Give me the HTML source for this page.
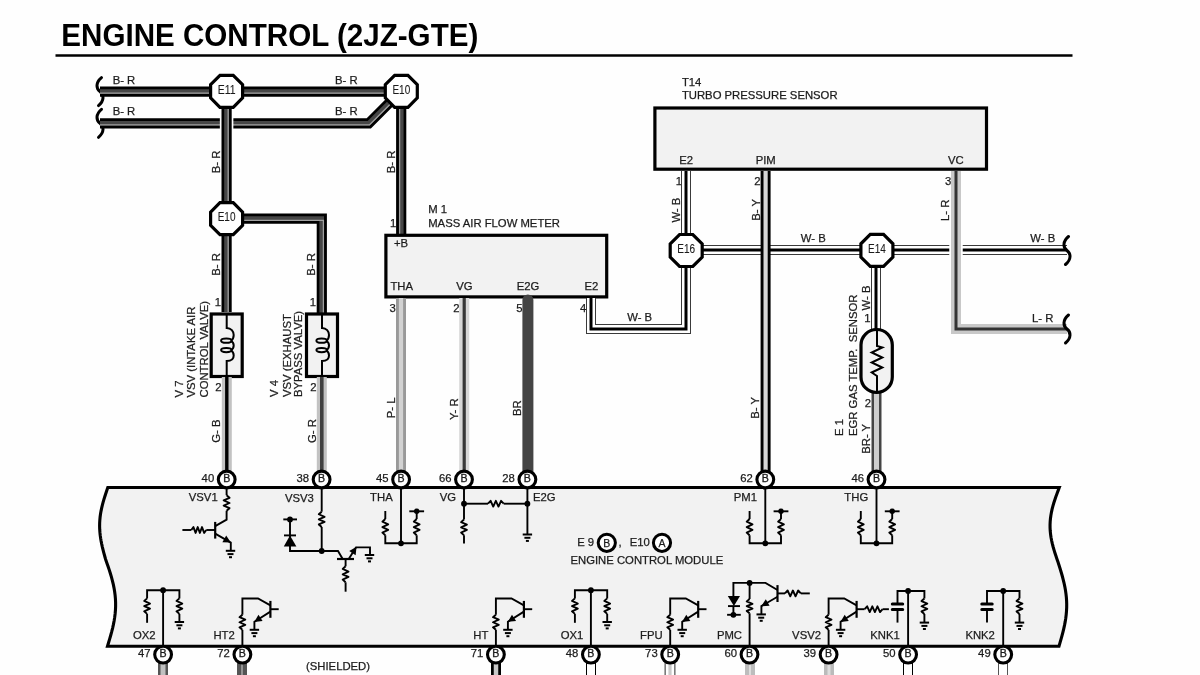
<!DOCTYPE html><html><head><meta charset="utf-8"><style>html,body{margin:0;padding:0;background:#fff;overflow:hidden;width:1200px;height:675px;}svg{display:block;filter:grayscale(1);}</style></head><body>
<svg width="1200" height="675" viewBox="0 0 1200 675" font-family='"Liberation Sans", sans-serif'>
<rect width="1200" height="675" fill="#fefefe"/>
<text x="61.3" y="45.6" font-size="30.6" font-weight="bold" fill="#000" textLength="417" lengthAdjust="spacingAndGlyphs">ENGINE CONTROL (2JZ-GTE)</text>
<path d="M55.5,55.5 L1072.5,55.5" fill="none" stroke="#000" stroke-width="2.6" stroke-linecap="butt" stroke-linejoin="miter"/>
<path d="M101.5,77.6 C95.5,82.6 96,88.6 100,91.6 C104,94.6 104.5,100.6 98.5,105.6" fill="none" stroke="#000" stroke-width="3" stroke-linecap="round"/>
<path d="M101.5,109.3 C95.5,114.3 96,120.3 100,123.3 C104,126.3 104.5,132.3 98.5,137.3" fill="none" stroke="#000" stroke-width="3" stroke-linecap="round"/>
<path d="M100,91.6 L401.3,91.6" fill="none" stroke="#000" stroke-width="10.2" stroke-linecap="butt" stroke-linejoin="miter"/>
<path d="M100.0,91.5 L401.3,91.5" fill="none" stroke="#464646" stroke-width="4.6" stroke-linecap="butt" stroke-linejoin="miter"/>
<path d="M100.0,93.2 L401.3,93.2" fill="none" stroke="#a0a0a0" stroke-width="1.3" stroke-linecap="butt" stroke-linejoin="miter"/>
<path d="M100,123.3 L368.8,123.3 L390,102.1" fill="none" stroke="#000" stroke-width="10.2" stroke-linecap="butt" stroke-linejoin="miter"/>
<path d="M100.0,123.2 L368.76,123.2 L389.93,102.03" fill="none" stroke="#464646" stroke-width="4.6" stroke-linecap="butt" stroke-linejoin="miter"/>
<path d="M100.0,124.9 L369.46,124.9 L391.13,103.23" fill="none" stroke="#a0a0a0" stroke-width="1.3" stroke-linecap="butt" stroke-linejoin="miter"/>
<path d="M226.6,100 L226.6,312" fill="none" stroke="#fefefe" stroke-width="13.5" stroke-linecap="butt" stroke-linejoin="miter"/>
<path d="M226.6,92 L226.6,312" fill="none" stroke="#000" stroke-width="10.2" stroke-linecap="butt" stroke-linejoin="miter"/>
<path d="M226.5,92.0 L226.5,312.0" fill="none" stroke="#464646" stroke-width="4.6" stroke-linecap="butt" stroke-linejoin="miter"/>
<path d="M228.2,92.0 L228.2,312.0" fill="none" stroke="#a0a0a0" stroke-width="1.3" stroke-linecap="butt" stroke-linejoin="miter"/>
<path d="M226.6,218.7 L321.8,218.7 L321.8,313" fill="none" stroke="#000" stroke-width="10.2" stroke-linecap="butt" stroke-linejoin="miter"/>
<path d="M226.6,218.6 L321.7,218.6 L321.7,313.0" fill="none" stroke="#464646" stroke-width="4.6" stroke-linecap="butt" stroke-linejoin="miter"/>
<path d="M226.6,220.3 L323.4,220.3 L323.4,313.0" fill="none" stroke="#a0a0a0" stroke-width="1.3" stroke-linecap="butt" stroke-linejoin="miter"/>
<path d="M401.2,92 L401.2,234" fill="none" stroke="#000" stroke-width="10.2" stroke-linecap="butt" stroke-linejoin="miter"/>
<path d="M401.3,92.0 L401.3,234.0" fill="none" stroke="#464646" stroke-width="4.6" stroke-linecap="butt" stroke-linejoin="miter"/>
<path d="M399.6,92.0 L399.6,234.0" fill="none" stroke="#a0a0a0" stroke-width="1.3" stroke-linecap="butt" stroke-linejoin="miter"/>
<path d="M219.97,75.30 L233.23,75.30 L242.60,84.67 L242.60,97.93 L233.23,107.30 L219.97,107.30 L210.60,97.93 L210.60,84.67Z" fill="#fff" stroke="#000" stroke-width="3.2" stroke-linejoin="miter"/>
<text x="226.6" y="93.8" font-size="12.2" text-anchor="middle" fill="#1c1c1c" stroke="#1c1c1c" stroke-width="0.1" textLength="17.8" lengthAdjust="spacingAndGlyphs">E11</text>
<path d="M394.67,75.30 L407.93,75.30 L417.30,84.67 L417.30,97.93 L407.93,107.30 L394.67,107.30 L385.30,97.93 L385.30,84.67Z" fill="#fff" stroke="#000" stroke-width="3.2" stroke-linejoin="miter"/>
<text x="401.3" y="93.8" font-size="12.2" text-anchor="middle" fill="#1c1c1c" stroke="#1c1c1c" stroke-width="0.1" textLength="17.8" lengthAdjust="spacingAndGlyphs">E10</text>
<path d="M219.97,202.70 L233.23,202.70 L242.60,212.07 L242.60,225.33 L233.23,234.70 L219.97,234.70 L210.60,225.33 L210.60,212.07Z" fill="#fff" stroke="#000" stroke-width="3.2" stroke-linejoin="miter"/>
<text x="226.6" y="221.2" font-size="12.2" text-anchor="middle" fill="#1c1c1c" stroke="#1c1c1c" stroke-width="0.1" textLength="17.8" lengthAdjust="spacingAndGlyphs">E10</text>
<text x="112.7" y="83.7" font-size="11.3" text-anchor="start" fill="#1c1c1c" stroke="#1c1c1c" stroke-width="0.25" >B- R</text>
<text x="112.7" y="115.3" font-size="11.3" text-anchor="start" fill="#1c1c1c" stroke="#1c1c1c" stroke-width="0.25" >B- R</text>
<text x="335" y="83.7" font-size="11.3" text-anchor="start" fill="#1c1c1c" stroke="#1c1c1c" stroke-width="0.25" >B- R</text>
<text x="335" y="115.3" font-size="11.3" text-anchor="start" fill="#1c1c1c" stroke="#1c1c1c" stroke-width="0.25" >B- R</text>
<text transform="translate(220,173.2) rotate(-90)" font-size="11.3" fill="#1c1c1c" stroke="#1c1c1c" stroke-width="0.25" >B- R</text>
<text transform="translate(394.6,173.2) rotate(-90)" font-size="11.3" fill="#1c1c1c" stroke="#1c1c1c" stroke-width="0.25" >B- R</text>
<text transform="translate(220,275.8) rotate(-90)" font-size="11.3" fill="#1c1c1c" stroke="#1c1c1c" stroke-width="0.25" >B- R</text>
<text transform="translate(315.2,275.8) rotate(-90)" font-size="11.3" fill="#1c1c1c" stroke="#1c1c1c" stroke-width="0.25" >B- R</text>
<text x="218" y="305.8" font-size="11.3" text-anchor="middle" fill="#1c1c1c" stroke="#1c1c1c" stroke-width="0.25" >1</text>
<text x="313" y="305.8" font-size="11.3" text-anchor="middle" fill="#1c1c1c" stroke="#1c1c1c" stroke-width="0.25" >1</text>
<rect x="211.2" y="314" width="31" height="62.5" fill="#f2f2f2" stroke="#000" stroke-width="3.2"/>
<path d="M226.7,314 V328 C231.2,328 233.7,331.5 233.7,335 C233.7,338 232.7,339.8 230.89999999999998,340.9 M230.89999999999998,340.9 C233.0,342 233.7,343.8 233.7,345.4 C233.7,347.3 232.89999999999998,349 230.89999999999998,350.3 M230.89999999999998,350.3 C233.0,351.5 233.7,353.5 233.7,355.5 C233.7,358.8 231.2,361 226.7,361 V376.5" fill="none" stroke="#000" stroke-width="2"/>
<ellipse cx="226.29999999999998" cy="340.7" rx="5.2" ry="2.1" fill="none" stroke="#000" stroke-width="2"/>
<ellipse cx="226.29999999999998" cy="350.1" rx="5.2" ry="2.1" fill="none" stroke="#000" stroke-width="2"/>
<rect x="306.5" y="314" width="31" height="62.5" fill="#f2f2f2" stroke="#000" stroke-width="3.2"/>
<path d="M322,314 V328 C326.5,328 329,331.5 329,335 C329,338 328,339.8 326.2,340.9 M326.2,340.9 C328.3,342 329,343.8 329,345.4 C329,347.3 328.2,349 326.2,350.3 M326.2,350.3 C328.3,351.5 329,353.5 329,355.5 C329,358.8 326.5,361 322,361 V376.5" fill="none" stroke="#000" stroke-width="2"/>
<ellipse cx="321.6" cy="340.7" rx="5.2" ry="2.1" fill="none" stroke="#000" stroke-width="2"/>
<ellipse cx="321.6" cy="350.1" rx="5.2" ry="2.1" fill="none" stroke="#000" stroke-width="2"/>
<path d="M226.8,377 L226.8,479" fill="none" stroke="#c2c2c2" stroke-width="10" stroke-linecap="butt" stroke-linejoin="miter"/>
<path d="M226.8,377 L226.8,479" fill="none" stroke="#000" stroke-width="3.4" stroke-linecap="butt" stroke-linejoin="miter"/>
<path d="M321.8,377 L321.8,479" fill="none" stroke="#c2c2c2" stroke-width="10" stroke-linecap="butt" stroke-linejoin="miter"/>
<path d="M321.8,377 L321.8,479" fill="none" stroke="#404040" stroke-width="3.6" stroke-linecap="butt" stroke-linejoin="miter"/>
<text x="218.5" y="391.4" font-size="11.3" text-anchor="middle" fill="#1c1c1c" stroke="#1c1c1c" stroke-width="0.25" >2</text>
<text x="313.5" y="391.4" font-size="11.3" text-anchor="middle" fill="#1c1c1c" stroke="#1c1c1c" stroke-width="0.25" >2</text>
<text transform="translate(183,397.5) rotate(-90)" font-size="11.3" fill="#1c1c1c" stroke="#1c1c1c" stroke-width="0.25" >V 7</text>
<text transform="translate(195.4,397.5) rotate(-90)" font-size="11.3" fill="#1c1c1c" stroke="#1c1c1c" stroke-width="0.25" >VSV (INTAKE AIR</text>
<text transform="translate(208,397.5) rotate(-90)" font-size="11.3" fill="#1c1c1c" stroke="#1c1c1c" stroke-width="0.25" >CONTROL VALVE)</text>
<text transform="translate(278,397) rotate(-90)" font-size="11.3" fill="#1c1c1c" stroke="#1c1c1c" stroke-width="0.25" >V 4</text>
<text transform="translate(291,397) rotate(-90)" font-size="11.3" fill="#1c1c1c" stroke="#1c1c1c" stroke-width="0.25" >VSV (EXHAUST</text>
<text transform="translate(302.4,397) rotate(-90)" font-size="11.3" fill="#1c1c1c" stroke="#1c1c1c" stroke-width="0.25" >BYPASS VALVE)</text>
<text transform="translate(220.1,442.7) rotate(-90)" font-size="11.3" fill="#1c1c1c" stroke="#1c1c1c" stroke-width="0.25" >G- B</text>
<text transform="translate(315.5,443) rotate(-90)" font-size="11.3" fill="#1c1c1c" stroke="#1c1c1c" stroke-width="0.25" >G- R</text>
<rect x="385.9" y="235.3" width="220.8" height="61.6" fill="#f2f2f2" stroke="#000" stroke-width="3.2"/>
<text x="428.2" y="213.3" font-size="11.3" text-anchor="start" fill="#1c1c1c" stroke="#1c1c1c" stroke-width="0.25" >M 1</text>
<text x="428.2" y="226.7" font-size="11.3" text-anchor="start" fill="#1c1c1c" stroke="#1c1c1c" stroke-width="0.25" >MASS AIR FLOW METER</text>
<text x="390" y="226.7" font-size="11.3" text-anchor="start" fill="#1c1c1c" stroke="#1c1c1c" stroke-width="0.25" >1</text>
<text x="394" y="247.3" font-size="11.3" text-anchor="start" fill="#1c1c1c" stroke="#1c1c1c" stroke-width="0.25" >+B</text>
<text x="390.4" y="290" font-size="11.3" text-anchor="start" fill="#1c1c1c" stroke="#1c1c1c" stroke-width="0.25" >THA</text>
<text x="456.2" y="290" font-size="11.3" text-anchor="start" fill="#1c1c1c" stroke="#1c1c1c" stroke-width="0.25" >VG</text>
<text x="516.7" y="290" font-size="11.3" text-anchor="start" fill="#1c1c1c" stroke="#1c1c1c" stroke-width="0.25" >E2G</text>
<text x="584.4" y="290" font-size="11.3" text-anchor="start" fill="#1c1c1c" stroke="#1c1c1c" stroke-width="0.25" >E2</text>
<text x="389.6" y="311.8" font-size="11.3" text-anchor="start" fill="#1c1c1c" stroke="#1c1c1c" stroke-width="0.25" >3</text>
<text x="453.3" y="311.8" font-size="11.3" text-anchor="start" fill="#1c1c1c" stroke="#1c1c1c" stroke-width="0.25" >2</text>
<text x="516.2" y="311.8" font-size="11.3" text-anchor="start" fill="#1c1c1c" stroke="#1c1c1c" stroke-width="0.25" >5</text>
<text x="580" y="311.8" font-size="11.3" text-anchor="start" fill="#1c1c1c" stroke="#1c1c1c" stroke-width="0.25" >4</text>
<path d="M401,298 L401,479" fill="none" stroke="#999" stroke-width="10" stroke-linecap="butt" stroke-linejoin="miter"/>
<path d="M401,298 L401,479" fill="none" stroke="#d2d2d2" stroke-width="4.2" stroke-linecap="butt" stroke-linejoin="miter"/>
<path d="M464.2,298 L464.2,479" fill="none" stroke="#d8d8d8" stroke-width="10" stroke-linecap="butt" stroke-linejoin="miter"/>
<path d="M464.2,298 L464.2,479" fill="none" stroke="#383838" stroke-width="3.2" stroke-linecap="butt" stroke-linejoin="miter"/>
<path d="M527.9,300 L527.9,479" fill="none" stroke="#444" stroke-width="11" stroke-linecap="round" stroke-linejoin="miter"/>
<text transform="translate(394.5,418.2) rotate(-90)" font-size="11.3" fill="#1c1c1c" stroke="#1c1c1c" stroke-width="0.25" >P- L</text>
<text transform="translate(457.9,420) rotate(-90)" font-size="11.3" fill="#1c1c1c" stroke="#1c1c1c" stroke-width="0.25" >Y- R</text>
<text transform="translate(521.2,416.1) rotate(-90)" font-size="11.3" fill="#1c1c1c" stroke="#1c1c1c" stroke-width="0.25" >BR</text>
<rect x="654.9" y="108" width="331.6" height="61.2" fill="#f2f2f2" stroke="#000" stroke-width="3.2"/>
<text x="681.9" y="85.6" font-size="11.3" text-anchor="start" fill="#1c1c1c" stroke="#1c1c1c" stroke-width="0.25" >T14</text>
<text x="681.9" y="98.7" font-size="11.3" text-anchor="start" fill="#1c1c1c" stroke="#1c1c1c" stroke-width="0.25" >TURBO PRESSURE SENSOR</text>
<text x="679.3" y="163.6" font-size="11.3" text-anchor="start" fill="#1c1c1c" stroke="#1c1c1c" stroke-width="0.25" >E2</text>
<text x="755.7" y="163.6" font-size="11.3" text-anchor="start" fill="#1c1c1c" stroke="#1c1c1c" stroke-width="0.25" >PIM</text>
<text x="947.9" y="163.6" font-size="11.3" text-anchor="start" fill="#1c1c1c" stroke="#1c1c1c" stroke-width="0.25" >VC</text>
<text x="675.7" y="185.2" font-size="11.3" text-anchor="start" fill="#1c1c1c" stroke="#1c1c1c" stroke-width="0.25" >1</text>
<text x="754.3" y="185.2" font-size="11.3" text-anchor="start" fill="#1c1c1c" stroke="#1c1c1c" stroke-width="0.25" >2</text>
<text x="944.9" y="185" font-size="11.3" text-anchor="start" fill="#1c1c1c" stroke="#1c1c1c" stroke-width="0.25" >3</text>
<path d="M591,298 L591,329 L686,329 L686,250" fill="none" stroke="#3a3a3a" stroke-width="10" stroke-linecap="butt" stroke-linejoin="miter"/>
<path d="M591,298 L591,329 L686,329 L686,250" fill="none" stroke="#fff" stroke-width="8" stroke-linecap="butt" stroke-linejoin="miter"/>
<path d="M591,298 L591,329 L686,329 L686,250" fill="none" stroke="#000" stroke-width="3" stroke-linecap="butt" stroke-linejoin="miter"/>
<path d="M686,171 L686,250" fill="none" stroke="#3a3a3a" stroke-width="10" stroke-linecap="butt" stroke-linejoin="miter"/>
<path d="M686,171 L686,250" fill="none" stroke="#fff" stroke-width="8" stroke-linecap="butt" stroke-linejoin="miter"/>
<path d="M686,171 L686,250" fill="none" stroke="#000" stroke-width="3" stroke-linecap="butt" stroke-linejoin="miter"/>
<path d="M686,250 L1067,250" fill="none" stroke="#3a3a3a" stroke-width="10" stroke-linecap="butt" stroke-linejoin="miter"/>
<path d="M686,250 L1067,250" fill="none" stroke="#fff" stroke-width="8" stroke-linecap="butt" stroke-linejoin="miter"/>
<path d="M686,250 L1067,250" fill="none" stroke="#000" stroke-width="3" stroke-linecap="butt" stroke-linejoin="miter"/>
<path d="M876,250 L876,330" fill="none" stroke="#3a3a3a" stroke-width="10" stroke-linecap="butt" stroke-linejoin="miter"/>
<path d="M876,250 L876,330" fill="none" stroke="#fff" stroke-width="8" stroke-linecap="butt" stroke-linejoin="miter"/>
<path d="M876,250 L876,330" fill="none" stroke="#000" stroke-width="3" stroke-linecap="butt" stroke-linejoin="miter"/>
<path d="M956,238 L956,262" fill="none" stroke="#fefefe" stroke-width="13.5" stroke-linecap="butt" stroke-linejoin="miter"/>
<path d="M956,171 L956,329 L1067,329" fill="none" stroke="#c8c8c8" stroke-width="10" stroke-linecap="butt" stroke-linejoin="miter"/>
<path d="M956,171 L956,329 L1067,329" fill="none" stroke="#333" stroke-width="3" stroke-linecap="butt" stroke-linejoin="miter"/>
<path d="M765.6,171 L765.6,479" fill="none" stroke="#000" stroke-width="10" stroke-linecap="butt" stroke-linejoin="miter"/>
<path d="M765.6,171 L765.6,479" fill="none" stroke="#d6d6d6" stroke-width="4.2" stroke-linecap="butt" stroke-linejoin="miter"/>
<path d="M1068.5,236.5 C1062.5,241.5 1063,247.5 1067,250.5 C1071,253.5 1071.5,259.5 1065.5,264.5" fill="none" stroke="#000" stroke-width="3" stroke-linecap="round"/>
<path d="M1068.5,315 C1062.5,320 1063,326 1067,329 C1071,332 1071.5,338 1065.5,343" fill="none" stroke="#000" stroke-width="3" stroke-linecap="round"/>
<path d="M679.57,234.50 L692.83,234.50 L702.20,243.87 L702.20,257.13 L692.83,266.50 L679.57,266.50 L670.20,257.13 L670.20,243.87Z" fill="#fff" stroke="#000" stroke-width="3.2" stroke-linejoin="miter"/>
<text x="686.2" y="253.0" font-size="12.2" text-anchor="middle" fill="#1c1c1c" stroke="#1c1c1c" stroke-width="0.1" textLength="17.8" lengthAdjust="spacingAndGlyphs">E16</text>
<path d="M870.27,234.40 L883.53,234.40 L892.90,243.77 L892.90,257.03 L883.53,266.40 L870.27,266.40 L860.90,257.03 L860.90,243.77Z" fill="#fff" stroke="#000" stroke-width="3.2" stroke-linejoin="miter"/>
<text x="876.9" y="252.9" font-size="12.2" text-anchor="middle" fill="#1c1c1c" stroke="#1c1c1c" stroke-width="0.1" textLength="17.8" lengthAdjust="spacingAndGlyphs">E14</text>
<text x="627.2" y="320.6" font-size="11.3" text-anchor="start" fill="#1c1c1c" stroke="#1c1c1c" stroke-width="0.25" >W- B</text>
<text x="800.8" y="242.4" font-size="11.3" text-anchor="start" fill="#1c1c1c" stroke="#1c1c1c" stroke-width="0.25" >W- B</text>
<text x="1030.3" y="242.4" font-size="11.3" text-anchor="start" fill="#1c1c1c" stroke="#1c1c1c" stroke-width="0.25" >W- B</text>
<text x="1032" y="321.9" font-size="11.3" text-anchor="start" fill="#1c1c1c" stroke="#1c1c1c" stroke-width="0.25" >L- R</text>
<text transform="translate(680.4,222.6) rotate(-90)" font-size="11.3" fill="#1c1c1c" stroke="#1c1c1c" stroke-width="0.25" >W- B</text>
<text transform="translate(759.5,220.8) rotate(-90)" font-size="11.3" fill="#1c1c1c" stroke="#1c1c1c" stroke-width="0.25" >B- Y</text>
<text transform="translate(949.4,221) rotate(-90)" font-size="11.3" fill="#1c1c1c" stroke="#1c1c1c" stroke-width="0.25" >L- R</text>
<text transform="translate(870.2,310.4) rotate(-90)" font-size="11.3" fill="#1c1c1c" stroke="#1c1c1c" stroke-width="0.25" >W- B</text>
<text transform="translate(758.8,418.8) rotate(-90)" font-size="11.3" fill="#1c1c1c" stroke="#1c1c1c" stroke-width="0.25" >B- Y</text>
<text x="867.5" y="321.5" font-size="11.3" text-anchor="middle" fill="#1c1c1c" stroke="#1c1c1c" stroke-width="0.25" >1</text>
<text x="867.8" y="406.7" font-size="11.3" text-anchor="middle" fill="#1c1c1c" stroke="#1c1c1c" stroke-width="0.25" >2</text>
<path d="M876.5,393 L876.5,479" fill="none" stroke="#444" stroke-width="10" stroke-linecap="butt" stroke-linejoin="miter"/>
<path d="M876.5,393 L876.5,479" fill="none" stroke="#cdcdcd" stroke-width="5" stroke-linecap="butt" stroke-linejoin="miter"/>
<rect x="861" y="329.5" width="31.3" height="63" rx="15.6" ry="15.6" fill="#f2f2f2" stroke="#000" stroke-width="3.2"/>
<path d="M877,329.5 V346 L882.3,347.5 L871.7,352.5 L882.3,357.5 L871.7,362.5 L882.3,367.5 L871.7,372.5 L877,376 V392.5" fill="none" stroke="#000" stroke-width="2"/>
<text transform="translate(843,436) rotate(-90)" font-size="11.3" fill="#1c1c1c" stroke="#1c1c1c" stroke-width="0.25" >E 1</text>
<text transform="translate(856.5,436) rotate(-90)" font-size="11.3" fill="#1c1c1c" stroke="#1c1c1c" stroke-width="0.25" >EGR GAS TEMP.&#160;&#160;SENSOR</text>
<text transform="translate(869.8,453.8) rotate(-90)" font-size="11.3" fill="#1c1c1c" stroke="#1c1c1c" stroke-width="0.25" >BR- Y</text>
<path d="M1059.30,487.50 L1058.12,490.60 L1056.97,493.71 L1055.85,496.81 L1054.78,499.92 L1053.79,503.02 L1052.89,506.12 L1052.10,509.23 L1051.42,512.33 L1050.87,515.44 L1050.45,518.54 L1050.18,521.65 L1050.05,524.75 L1050.07,527.85 L1050.23,530.96 L1050.54,534.06 L1050.99,537.17 L1051.56,540.27 L1052.24,543.38 L1053.04,546.48 L1053.92,549.58 L1054.87,552.69 L1055.88,555.79 L1056.93,558.90 L1058.00,562.00 L1059.11,565.51 L1060.21,569.02 L1061.26,572.52 L1062.27,576.03 L1063.20,579.54 L1064.05,583.05 L1064.80,586.56 L1065.43,590.07 L1065.95,593.58 L1066.34,597.08 L1066.59,600.59 L1066.70,604.10 L1066.67,607.61 L1066.50,611.12 L1066.20,614.62 L1065.77,618.13 L1065.21,621.64 L1064.55,625.15 L1063.78,628.66 L1062.93,632.17 L1062.01,635.68 L1061.04,639.18 L1060.03,642.69 L1059.00,646.20 107.50,646.20 L108.60,642.57 L109.69,638.93 L110.73,635.30 L111.72,631.67 L112.62,628.03 L113.43,624.40 L114.14,620.77 L114.71,617.13 L115.16,613.50 L115.46,609.87 L115.61,606.23 L115.60,602.60 L115.44,598.97 L115.12,595.33 L114.66,591.70 L114.05,588.07 L113.30,584.43 L112.43,580.80 L111.46,577.17 L110.38,573.53 L109.23,569.90 L108.02,566.27 L106.77,562.63 L105.50,559.00 L104.68,556.02 L103.88,553.04 L103.11,550.06 L102.38,547.08 L101.72,544.10 L101.13,541.12 L100.62,538.15 L100.20,535.17 L99.90,532.19 L99.70,529.21 L99.61,526.23 L99.65,523.25 L99.81,520.27 L100.08,517.29 L100.47,514.31 L100.97,511.33 L101.58,508.35 L102.28,505.38 L103.06,502.40 L103.92,499.42 L104.83,496.44 L105.80,493.46 L106.79,490.48 L107.80,487.50 Z" fill="#f2f2f2" stroke="#000" stroke-width="3.1" stroke-linejoin="miter"/>
<path d="M226.60,489.00 L226.60,495.20" fill="none" stroke="#000" stroke-width="1.9" stroke-linejoin="miter" stroke-linecap="butt"/>
<path d="M226.60,495.20 L229.50,497.80 L223.70,500.40 L229.50,503.00 L223.70,505.60 L229.50,508.20 L226.60,510.80" fill="none" stroke="#000" stroke-width="1.9" stroke-linejoin="round" stroke-linecap="butt"/>
<path d="M226.60,510.80 L226.60,519.70 L215.20,526.20" fill="none" stroke="#000" stroke-width="1.9" stroke-linejoin="miter" stroke-linecap="butt"/>
<path d="M215.20,521.90 L215.20,538.60" fill="none" stroke="#000" stroke-width="2.2" stroke-linejoin="miter" stroke-linecap="butt"/>
<path d="M182.40,530.00 L191.30,530.00" fill="none" stroke="#000" stroke-width="1.9" stroke-linejoin="miter" stroke-linecap="butt"/>
<path d="M191.30,530.00 L193.44,527.10 L195.59,532.90 L197.73,527.10 L199.87,532.90 L202.01,527.10 L204.16,532.90 L206.30,530.00" fill="none" stroke="#000" stroke-width="1.9" stroke-linejoin="round" stroke-linecap="butt"/>
<path d="M206.30,530.00 L215.20,530.00" fill="none" stroke="#000" stroke-width="1.9" stroke-linejoin="miter" stroke-linecap="butt"/>
<path d="M215.20,533.60 L230.80,542.60 L230.80,550.80" fill="none" stroke="#000" stroke-width="1.9" stroke-linejoin="miter" stroke-linecap="butt"/>
<path d="M230.80,542.60 L222.40,542.14 L226.20,535.56 Z" fill="#000"/>
<path d="M225.80,550.80 L235.20,550.80" fill="none" stroke="#000" stroke-width="2" stroke-linejoin="miter" stroke-linecap="butt"/>
<path d="M227.50,554.10 L233.50,554.10" fill="none" stroke="#000" stroke-width="2" stroke-linejoin="miter" stroke-linecap="butt"/>
<path d="M229.00,557.20 L232.00,557.20" fill="none" stroke="#000" stroke-width="2" stroke-linejoin="miter" stroke-linecap="butt"/>
<text x="217.7" y="501.2" font-size="11.3" text-anchor="end" fill="#1c1c1c" stroke="#1c1c1c" stroke-width="0.25" >VSV1</text>
<path d="M321.70,489.00 L321.70,511.70" fill="none" stroke="#000" stroke-width="1.9" stroke-linejoin="miter" stroke-linecap="butt"/>
<path d="M321.70,511.70 L318.80,514.25 L324.60,516.80 L318.80,519.35 L324.60,521.90 L318.80,524.45 L321.70,527.00" fill="none" stroke="#000" stroke-width="1.9" stroke-linejoin="round" stroke-linecap="butt"/>
<path d="M321.70,527.00 L321.70,551.00" fill="none" stroke="#000" stroke-width="1.9" stroke-linejoin="miter" stroke-linecap="butt"/>
<circle cx="321.7" cy="551" r="2.9" fill="#000"/>
<path d="M283.30,519.40 L297.00,519.40" fill="none" stroke="#000" stroke-width="1.9" stroke-linejoin="miter" stroke-linecap="butt"/>
<circle cx="290" cy="519.4" r="2.9" fill="#000"/>
<path d="M290.00,519.40 L290.00,551.00 L338.00,551.00 L342.70,559.00" fill="none" stroke="#000" stroke-width="1.9" stroke-linejoin="miter" stroke-linecap="butt"/>
<path d="M284.00,535.40 L296.00,535.40" fill="none" stroke="#000" stroke-width="1.9" stroke-linejoin="miter" stroke-linecap="butt"/>
<path d="M290,535.4 L283.8,546.6 L296.4,546.6 Z" fill="#000"/>
<path d="M337.00,559.00 L354.00,559.00" fill="none" stroke="#000" stroke-width="2.2" stroke-linejoin="miter" stroke-linecap="butt"/>
<path d="M348.70,559.00 L356.00,547.40 L370.00,547.40 L370.00,555.00" fill="none" stroke="#000" stroke-width="1.9" stroke-linejoin="miter" stroke-linecap="butt"/>
<path d="M356.50,546.80 L355.66,555.17 L349.26,551.07 Z" fill="#000"/>
<path d="M364.80,555.00 L374.20,555.00" fill="none" stroke="#000" stroke-width="2" stroke-linejoin="miter" stroke-linecap="butt"/>
<path d="M366.50,558.30 L372.50,558.30" fill="none" stroke="#000" stroke-width="2" stroke-linejoin="miter" stroke-linecap="butt"/>
<path d="M368.00,561.40 L371.00,561.40" fill="none" stroke="#000" stroke-width="2" stroke-linejoin="miter" stroke-linecap="butt"/>
<path d="M345.60,559.00 L345.60,566.30" fill="none" stroke="#000" stroke-width="1.9" stroke-linejoin="miter" stroke-linecap="butt"/>
<path d="M345.60,566.30 L342.70,568.97 L348.50,571.63 L342.70,574.30 L348.50,576.97 L342.70,579.63 L345.60,582.30" fill="none" stroke="#000" stroke-width="1.9" stroke-linejoin="round" stroke-linecap="butt"/>
<path d="M345.60,582.30 L345.60,591.70" fill="none" stroke="#000" stroke-width="1.9" stroke-linejoin="miter" stroke-linecap="butt"/>
<text x="313.9" y="501.6" font-size="11.3" text-anchor="end" fill="#1c1c1c" stroke="#1c1c1c" stroke-width="0.25" >VSV3</text>
<path d="M401.00,489.00 L401.00,543.30" fill="none" stroke="#000" stroke-width="1.9" stroke-linejoin="miter" stroke-linecap="butt"/>
<circle cx="401" cy="543.3" r="2.9" fill="#000"/>
<path d="M385.30,511.00 L385.30,519.00" fill="none" stroke="#000" stroke-width="1.9" stroke-linejoin="miter" stroke-linecap="butt"/>
<path d="M385.30,519.00 L382.40,521.72 L388.20,524.43 L382.40,527.15 L388.20,529.87 L382.40,532.58 L385.30,535.30" fill="none" stroke="#000" stroke-width="1.9" stroke-linejoin="round" stroke-linecap="butt"/>
<path d="M385.30,535.30 L385.30,543.30 L416.70,543.30 L416.70,535.30" fill="none" stroke="#000" stroke-width="1.9" stroke-linejoin="miter" stroke-linecap="butt"/>
<circle cx="416.7" cy="511.3" r="2.7" fill="#000"/>
<path d="M409.30,511.30 L424.10,511.30" fill="none" stroke="#000" stroke-width="1.9" stroke-linejoin="miter" stroke-linecap="butt"/>
<path d="M416.70,511.30 L416.70,519.00" fill="none" stroke="#000" stroke-width="1.9" stroke-linejoin="miter" stroke-linecap="butt"/>
<path d="M416.70,519.00 L413.80,521.72 L419.60,524.43 L413.80,527.15 L419.60,529.87 L413.80,532.58 L416.70,535.30" fill="none" stroke="#000" stroke-width="1.9" stroke-linejoin="round" stroke-linecap="butt"/>
<text x="392.7" y="501.3" font-size="11.3" text-anchor="end" fill="#1c1c1c" stroke="#1c1c1c" stroke-width="0.25" >THA</text>
<path d="M765.30,489.00 L765.30,543.30" fill="none" stroke="#000" stroke-width="1.9" stroke-linejoin="miter" stroke-linecap="butt"/>
<circle cx="765.3" cy="543.3" r="2.9" fill="#000"/>
<path d="M749.60,511.00 L749.60,519.00" fill="none" stroke="#000" stroke-width="1.9" stroke-linejoin="miter" stroke-linecap="butt"/>
<path d="M749.60,519.00 L746.70,521.72 L752.50,524.43 L746.70,527.15 L752.50,529.87 L746.70,532.58 L749.60,535.30" fill="none" stroke="#000" stroke-width="1.9" stroke-linejoin="round" stroke-linecap="butt"/>
<path d="M749.60,535.30 L749.60,543.30 L781.00,543.30 L781.00,535.30" fill="none" stroke="#000" stroke-width="1.9" stroke-linejoin="miter" stroke-linecap="butt"/>
<circle cx="781.0" cy="511.3" r="2.7" fill="#000"/>
<path d="M773.60,511.30 L788.40,511.30" fill="none" stroke="#000" stroke-width="1.9" stroke-linejoin="miter" stroke-linecap="butt"/>
<path d="M781.00,511.30 L781.00,519.00" fill="none" stroke="#000" stroke-width="1.9" stroke-linejoin="miter" stroke-linecap="butt"/>
<path d="M781.00,519.00 L778.10,521.72 L783.90,524.43 L778.10,527.15 L783.90,529.87 L778.10,532.58 L781.00,535.30" fill="none" stroke="#000" stroke-width="1.9" stroke-linejoin="round" stroke-linecap="butt"/>
<text x="757.0" y="501.3" font-size="11.3" text-anchor="end" fill="#1c1c1c" stroke="#1c1c1c" stroke-width="0.25" >PM1</text>
<path d="M876.50,489.00 L876.50,543.30" fill="none" stroke="#000" stroke-width="1.9" stroke-linejoin="miter" stroke-linecap="butt"/>
<circle cx="876.5" cy="543.3" r="2.9" fill="#000"/>
<path d="M860.80,511.00 L860.80,519.00" fill="none" stroke="#000" stroke-width="1.9" stroke-linejoin="miter" stroke-linecap="butt"/>
<path d="M860.80,519.00 L857.90,521.72 L863.70,524.43 L857.90,527.15 L863.70,529.87 L857.90,532.58 L860.80,535.30" fill="none" stroke="#000" stroke-width="1.9" stroke-linejoin="round" stroke-linecap="butt"/>
<path d="M860.80,535.30 L860.80,543.30 L892.20,543.30 L892.20,535.30" fill="none" stroke="#000" stroke-width="1.9" stroke-linejoin="miter" stroke-linecap="butt"/>
<circle cx="892.2" cy="511.3" r="2.7" fill="#000"/>
<path d="M884.80,511.30 L899.60,511.30" fill="none" stroke="#000" stroke-width="1.9" stroke-linejoin="miter" stroke-linecap="butt"/>
<path d="M892.20,511.30 L892.20,519.00" fill="none" stroke="#000" stroke-width="1.9" stroke-linejoin="miter" stroke-linecap="butt"/>
<path d="M892.20,519.00 L889.30,521.72 L895.10,524.43 L889.30,527.15 L895.10,529.87 L889.30,532.58 L892.20,535.30" fill="none" stroke="#000" stroke-width="1.9" stroke-linejoin="round" stroke-linecap="butt"/>
<text x="868.2" y="501.3" font-size="11.3" text-anchor="end" fill="#1c1c1c" stroke="#1c1c1c" stroke-width="0.25" >THG</text>
<path d="M464.00,489.00 L464.00,519.50" fill="none" stroke="#000" stroke-width="1.9" stroke-linejoin="miter" stroke-linecap="butt"/>
<circle cx="464" cy="503.7" r="2.9" fill="#000"/>
<circle cx="527.4" cy="503.7" r="2.9" fill="#000"/>
<path d="M464.00,519.50 L461.10,522.12 L466.90,524.73 L461.10,527.35 L466.90,529.97 L461.10,532.58 L464.00,535.20" fill="none" stroke="#000" stroke-width="1.9" stroke-linejoin="round" stroke-linecap="butt"/>
<path d="M464.00,535.20 L464.00,543.50" fill="none" stroke="#000" stroke-width="1.9" stroke-linejoin="miter" stroke-linecap="butt"/>
<path d="M464.00,503.70 L488.00,503.70" fill="none" stroke="#000" stroke-width="1.9" stroke-linejoin="miter" stroke-linecap="butt"/>
<path d="M488.00,503.70 L490.62,500.80 L493.23,506.60 L495.85,500.80 L498.47,506.60 L501.08,500.80 L503.70,503.70" fill="none" stroke="#000" stroke-width="1.9" stroke-linejoin="round" stroke-linecap="butt"/>
<path d="M503.70,503.70 L527.40,503.70" fill="none" stroke="#000" stroke-width="1.9" stroke-linejoin="miter" stroke-linecap="butt"/>
<path d="M527.40,489.00 L527.40,534.50" fill="none" stroke="#000" stroke-width="1.9" stroke-linejoin="miter" stroke-linecap="butt"/>
<path d="M522.70,534.50 L532.10,534.50" fill="none" stroke="#000" stroke-width="2" stroke-linejoin="miter" stroke-linecap="butt"/>
<path d="M524.40,537.80 L530.40,537.80" fill="none" stroke="#000" stroke-width="2" stroke-linejoin="miter" stroke-linecap="butt"/>
<path d="M525.90,540.90 L528.90,540.90" fill="none" stroke="#000" stroke-width="2" stroke-linejoin="miter" stroke-linecap="butt"/>
<text x="456" y="500.7" font-size="11.3" text-anchor="end" fill="#1c1c1c" stroke="#1c1c1c" stroke-width="0.25" >VG</text>
<text x="533" y="500.7" font-size="11.3" text-anchor="start" fill="#1c1c1c" stroke="#1c1c1c" stroke-width="0.25" >E2G</text>
<text x="577.2" y="545.5" font-size="11.3" text-anchor="start" fill="#1c1c1c" stroke="#1c1c1c" stroke-width="0.25" >E 9</text>
<text x="618.5" y="545.5" font-size="11.3" text-anchor="start" fill="#1c1c1c" stroke="#1c1c1c" stroke-width="0.25" >,</text>
<text x="629.7" y="545.5" font-size="11.3" text-anchor="start" fill="#1c1c1c" stroke="#1c1c1c" stroke-width="0.25" >E10</text>
<circle cx="606.8" cy="542.8" r="8.6" fill="#fff" stroke="#000" stroke-width="3"/>
<text x="606.8" y="546.6" font-size="10.5" text-anchor="middle" fill="#1c1c1c" stroke="#1c1c1c" stroke-width="0.25" >B</text>
<circle cx="662" cy="542.8" r="8.6" fill="#fff" stroke="#000" stroke-width="3"/>
<text x="662" y="546.6" font-size="10.5" text-anchor="middle" fill="#1c1c1c" stroke="#1c1c1c" stroke-width="0.25" >A</text>
<text x="570.5" y="564.2" font-size="11.3" text-anchor="start" fill="#1c1c1c" stroke="#1c1c1c" stroke-width="0.25" >ENGINE CONTROL MODULE</text>
<path d="M163.10,645.00 L163.10,590.20" fill="none" stroke="#000" stroke-width="1.9" stroke-linejoin="miter" stroke-linecap="butt"/>
<circle cx="163.1" cy="590.2" r="2.9" fill="#000"/>
<path d="M147.10,598.40 L147.10,590.20 L179.40,590.20 L179.40,598.40" fill="none" stroke="#000" stroke-width="1.9" stroke-linejoin="miter" stroke-linecap="butt"/>
<path d="M147.10,598.40 L144.20,600.98 L150.00,603.57 L144.20,606.15 L150.00,608.73 L144.20,611.32 L147.10,613.90" fill="none" stroke="#000" stroke-width="1.9" stroke-linejoin="round" stroke-linecap="butt"/>
<path d="M147.10,613.90 L147.10,622.80" fill="none" stroke="#000" stroke-width="1.9" stroke-linejoin="miter" stroke-linecap="butt"/>
<path d="M179.40,598.40 L176.50,600.98 L182.30,603.57 L176.50,606.15 L182.30,608.73 L176.50,611.32 L179.40,613.90" fill="none" stroke="#000" stroke-width="1.9" stroke-linejoin="round" stroke-linecap="butt"/>
<path d="M179.40,613.90 L179.40,622.00" fill="none" stroke="#000" stroke-width="1.9" stroke-linejoin="miter" stroke-linecap="butt"/>
<path d="M174.70,622.00 L184.10,622.00" fill="none" stroke="#000" stroke-width="2" stroke-linejoin="miter" stroke-linecap="butt"/>
<path d="M176.40,625.30 L182.40,625.30" fill="none" stroke="#000" stroke-width="2" stroke-linejoin="miter" stroke-linecap="butt"/>
<path d="M177.90,628.40 L180.90,628.40" fill="none" stroke="#000" stroke-width="2" stroke-linejoin="miter" stroke-linecap="butt"/>
<text x="155.5" y="638.6" font-size="11.3" text-anchor="end" fill="#1c1c1c" stroke="#1c1c1c" stroke-width="0.25" >OX2</text>
<path d="M590.90,645.00 L590.90,590.20" fill="none" stroke="#000" stroke-width="1.9" stroke-linejoin="miter" stroke-linecap="butt"/>
<circle cx="590.9" cy="590.2" r="2.9" fill="#000"/>
<path d="M574.90,598.40 L574.90,590.20 L607.20,590.20 L607.20,598.40" fill="none" stroke="#000" stroke-width="1.9" stroke-linejoin="miter" stroke-linecap="butt"/>
<path d="M574.90,598.40 L572.00,600.98 L577.80,603.57 L572.00,606.15 L577.80,608.73 L572.00,611.32 L574.90,613.90" fill="none" stroke="#000" stroke-width="1.9" stroke-linejoin="round" stroke-linecap="butt"/>
<path d="M574.90,613.90 L574.90,622.80" fill="none" stroke="#000" stroke-width="1.9" stroke-linejoin="miter" stroke-linecap="butt"/>
<path d="M607.20,598.40 L604.30,600.98 L610.10,603.57 L604.30,606.15 L610.10,608.73 L604.30,611.32 L607.20,613.90" fill="none" stroke="#000" stroke-width="1.9" stroke-linejoin="round" stroke-linecap="butt"/>
<path d="M607.20,613.90 L607.20,622.00" fill="none" stroke="#000" stroke-width="1.9" stroke-linejoin="miter" stroke-linecap="butt"/>
<path d="M602.50,622.00 L611.90,622.00" fill="none" stroke="#000" stroke-width="2" stroke-linejoin="miter" stroke-linecap="butt"/>
<path d="M604.20,625.30 L610.20,625.30" fill="none" stroke="#000" stroke-width="2" stroke-linejoin="miter" stroke-linecap="butt"/>
<path d="M605.70,628.40 L608.70,628.40" fill="none" stroke="#000" stroke-width="2" stroke-linejoin="miter" stroke-linecap="butt"/>
<text x="583.3" y="638.6" font-size="11.3" text-anchor="end" fill="#1c1c1c" stroke="#1c1c1c" stroke-width="0.25" >OX1</text>
<path d="M242.40,645.00 L242.40,629.80" fill="none" stroke="#000" stroke-width="1.9" stroke-linejoin="miter" stroke-linecap="butt"/>
<path d="M242.40,614.70 L239.50,617.22 L245.30,619.73 L239.50,622.25 L245.30,624.77 L239.50,627.28 L242.40,629.80" fill="none" stroke="#000" stroke-width="1.9" stroke-linejoin="round" stroke-linecap="butt"/>
<path d="M242.40,614.70 L242.40,598.50 L258.00,598.50 L270.40,605.30" fill="none" stroke="#000" stroke-width="1.9" stroke-linejoin="miter" stroke-linecap="butt"/>
<path d="M270.40,600.90 L270.40,617.80" fill="none" stroke="#000" stroke-width="2.2" stroke-linejoin="miter" stroke-linecap="butt"/>
<path d="M270.40,611.60 L254.40,621.80 L254.40,629.80" fill="none" stroke="#000" stroke-width="1.9" stroke-linejoin="miter" stroke-linecap="butt"/>
<path d="M254.20,621.90 L258.49,614.67 L262.57,621.08 Z" fill="#000"/>
<path d="M249.70,629.80 L259.10,629.80" fill="none" stroke="#000" stroke-width="2" stroke-linejoin="miter" stroke-linecap="butt"/>
<path d="M251.40,633.10 L257.40,633.10" fill="none" stroke="#000" stroke-width="2" stroke-linejoin="miter" stroke-linecap="butt"/>
<path d="M252.90,636.20 L255.90,636.20" fill="none" stroke="#000" stroke-width="2" stroke-linejoin="miter" stroke-linecap="butt"/>
<path d="M270.40,609.20 L278.70,609.20" fill="none" stroke="#000" stroke-width="1.9" stroke-linejoin="miter" stroke-linecap="butt"/>
<text x="234.8" y="638.6" font-size="11.3" text-anchor="end" fill="#1c1c1c" stroke="#1c1c1c" stroke-width="0.25" >HT2</text>
<path d="M495.90,645.00 L495.90,629.80" fill="none" stroke="#000" stroke-width="1.9" stroke-linejoin="miter" stroke-linecap="butt"/>
<path d="M495.90,614.70 L493.00,617.22 L498.80,619.73 L493.00,622.25 L498.80,624.77 L493.00,627.28 L495.90,629.80" fill="none" stroke="#000" stroke-width="1.9" stroke-linejoin="round" stroke-linecap="butt"/>
<path d="M495.90,614.70 L495.90,598.50 L511.50,598.50 L523.90,605.30" fill="none" stroke="#000" stroke-width="1.9" stroke-linejoin="miter" stroke-linecap="butt"/>
<path d="M523.90,600.90 L523.90,617.80" fill="none" stroke="#000" stroke-width="2.2" stroke-linejoin="miter" stroke-linecap="butt"/>
<path d="M523.90,611.60 L507.90,621.80 L507.90,629.80" fill="none" stroke="#000" stroke-width="1.9" stroke-linejoin="miter" stroke-linecap="butt"/>
<path d="M507.70,621.90 L511.99,614.67 L516.07,621.08 Z" fill="#000"/>
<path d="M503.20,629.80 L512.60,629.80" fill="none" stroke="#000" stroke-width="2" stroke-linejoin="miter" stroke-linecap="butt"/>
<path d="M504.90,633.10 L510.90,633.10" fill="none" stroke="#000" stroke-width="2" stroke-linejoin="miter" stroke-linecap="butt"/>
<path d="M506.40,636.20 L509.40,636.20" fill="none" stroke="#000" stroke-width="2" stroke-linejoin="miter" stroke-linecap="butt"/>
<path d="M523.90,609.20 L532.20,609.20" fill="none" stroke="#000" stroke-width="1.9" stroke-linejoin="miter" stroke-linecap="butt"/>
<text x="488.29999999999995" y="638.6" font-size="11.3" text-anchor="end" fill="#1c1c1c" stroke="#1c1c1c" stroke-width="0.25" >HT</text>
<path d="M670.20,645.00 L670.20,629.80" fill="none" stroke="#000" stroke-width="1.9" stroke-linejoin="miter" stroke-linecap="butt"/>
<path d="M670.20,614.70 L667.30,617.22 L673.10,619.73 L667.30,622.25 L673.10,624.77 L667.30,627.28 L670.20,629.80" fill="none" stroke="#000" stroke-width="1.9" stroke-linejoin="round" stroke-linecap="butt"/>
<path d="M670.20,614.70 L670.20,598.50 L685.80,598.50 L698.20,605.30" fill="none" stroke="#000" stroke-width="1.9" stroke-linejoin="miter" stroke-linecap="butt"/>
<path d="M698.20,600.90 L698.20,617.80" fill="none" stroke="#000" stroke-width="2.2" stroke-linejoin="miter" stroke-linecap="butt"/>
<path d="M698.20,611.60 L682.20,621.80 L682.20,629.80" fill="none" stroke="#000" stroke-width="1.9" stroke-linejoin="miter" stroke-linecap="butt"/>
<path d="M682.00,621.90 L686.29,614.67 L690.37,621.08 Z" fill="#000"/>
<path d="M677.50,629.80 L686.90,629.80" fill="none" stroke="#000" stroke-width="2" stroke-linejoin="miter" stroke-linecap="butt"/>
<path d="M679.20,633.10 L685.20,633.10" fill="none" stroke="#000" stroke-width="2" stroke-linejoin="miter" stroke-linecap="butt"/>
<path d="M680.70,636.20 L683.70,636.20" fill="none" stroke="#000" stroke-width="2" stroke-linejoin="miter" stroke-linecap="butt"/>
<path d="M698.20,609.20 L706.50,609.20" fill="none" stroke="#000" stroke-width="1.9" stroke-linejoin="miter" stroke-linecap="butt"/>
<text x="662.6" y="638.6" font-size="11.3" text-anchor="end" fill="#1c1c1c" stroke="#1c1c1c" stroke-width="0.25" >FPU</text>
<path d="M828.60,645.00 L828.60,629.80" fill="none" stroke="#000" stroke-width="1.9" stroke-linejoin="miter" stroke-linecap="butt"/>
<path d="M828.60,614.70 L825.70,617.22 L831.50,619.73 L825.70,622.25 L831.50,624.77 L825.70,627.28 L828.60,629.80" fill="none" stroke="#000" stroke-width="1.9" stroke-linejoin="round" stroke-linecap="butt"/>
<path d="M828.60,614.70 L828.60,598.50 L844.20,598.50 L856.60,605.30" fill="none" stroke="#000" stroke-width="1.9" stroke-linejoin="miter" stroke-linecap="butt"/>
<path d="M856.60,600.90 L856.60,617.80" fill="none" stroke="#000" stroke-width="2.2" stroke-linejoin="miter" stroke-linecap="butt"/>
<path d="M856.60,611.60 L840.60,621.80 L840.60,629.80" fill="none" stroke="#000" stroke-width="1.9" stroke-linejoin="miter" stroke-linecap="butt"/>
<path d="M840.40,621.90 L844.69,614.67 L848.77,621.08 Z" fill="#000"/>
<path d="M835.90,629.80 L845.30,629.80" fill="none" stroke="#000" stroke-width="2" stroke-linejoin="miter" stroke-linecap="butt"/>
<path d="M837.60,633.10 L843.60,633.10" fill="none" stroke="#000" stroke-width="2" stroke-linejoin="miter" stroke-linecap="butt"/>
<path d="M839.10,636.20 L842.10,636.20" fill="none" stroke="#000" stroke-width="2" stroke-linejoin="miter" stroke-linecap="butt"/>
<path d="M856.60,609.20 L864.60,609.20" fill="none" stroke="#000" stroke-width="1.9" stroke-linejoin="miter" stroke-linecap="butt"/>
<path d="M864.60,609.20 L867.17,606.30 L869.74,612.10 L872.31,606.30 L874.89,612.10 L877.46,606.30 L880.03,612.10 L882.60,609.20" fill="none" stroke="#000" stroke-width="1.9" stroke-linejoin="round" stroke-linecap="butt"/>
<path d="M882.60,609.20 L888.90,609.20" fill="none" stroke="#000" stroke-width="1.9" stroke-linejoin="miter" stroke-linecap="butt"/>
<text x="821.0" y="638.6" font-size="11.3" text-anchor="end" fill="#1c1c1c" stroke="#1c1c1c" stroke-width="0.25" >VSV2</text>
<path d="M749.60,645.00 L749.60,613.30" fill="none" stroke="#000" stroke-width="1.9" stroke-linejoin="miter" stroke-linecap="butt"/>
<path d="M749.60,599.00 L746.70,601.38 L752.50,603.77 L746.70,606.15 L752.50,608.53 L746.70,610.92 L749.60,613.30" fill="none" stroke="#000" stroke-width="1.9" stroke-linejoin="round" stroke-linecap="butt"/>
<path d="M749.60,599.00 L749.60,582.90" fill="none" stroke="#000" stroke-width="1.9" stroke-linejoin="miter" stroke-linecap="butt"/>
<circle cx="749.6" cy="582.9" r="2.9" fill="#000"/>
<path d="M733.40,596.00 L733.40,582.90 L765.50,582.90 L777.50,590.00" fill="none" stroke="#000" stroke-width="1.9" stroke-linejoin="miter" stroke-linecap="butt"/>
<path d="M777.50,585.10 L777.50,602.00" fill="none" stroke="#000" stroke-width="2.2" stroke-linejoin="miter" stroke-linecap="butt"/>
<path d="M777.50,593.40 L785.00,593.40" fill="none" stroke="#000" stroke-width="1.9" stroke-linejoin="miter" stroke-linecap="butt"/>
<path d="M785.00,593.40 L787.63,590.50 L790.27,596.30 L792.90,590.50 L795.53,596.30 L798.17,590.50 L800.80,593.40" fill="none" stroke="#000" stroke-width="1.9" stroke-linejoin="round" stroke-linecap="butt"/>
<path d="M800.80,593.40 L809.80,593.40" fill="none" stroke="#000" stroke-width="1.9" stroke-linejoin="miter" stroke-linecap="butt"/>
<path d="M777.50,596.80 L761.40,606.10 L761.40,614.40" fill="none" stroke="#000" stroke-width="1.9" stroke-linejoin="miter" stroke-linecap="butt"/>
<path d="M761.20,606.20 L765.80,599.16 L769.60,605.75 Z" fill="#000"/>
<path d="M756.50,614.40 L765.90,614.40" fill="none" stroke="#000" stroke-width="2" stroke-linejoin="miter" stroke-linecap="butt"/>
<path d="M758.20,617.70 L764.20,617.70" fill="none" stroke="#000" stroke-width="2" stroke-linejoin="miter" stroke-linecap="butt"/>
<path d="M759.70,620.80 L762.70,620.80" fill="none" stroke="#000" stroke-width="2" stroke-linejoin="miter" stroke-linecap="butt"/>
<path d="M727.8,596 L740,596 L733.9,606.1 Z" fill="#000"/>
<path d="M728.00,606.10 L740.00,606.10" fill="none" stroke="#000" stroke-width="1.9" stroke-linejoin="miter" stroke-linecap="butt"/>
<path d="M733.40,606.10 L733.40,614.80" fill="none" stroke="#000" stroke-width="1.9" stroke-linejoin="miter" stroke-linecap="butt"/>
<circle cx="733.4" cy="614.8" r="2.9" fill="#000"/>
<path d="M727.10,614.80 L740.80,614.80" fill="none" stroke="#000" stroke-width="1.9" stroke-linejoin="miter" stroke-linecap="butt"/>
<text x="742" y="638.6" font-size="11.3" text-anchor="end" fill="#1c1c1c" stroke="#1c1c1c" stroke-width="0.25" >PMC</text>
<path d="M908.10,645.00 L908.10,591.00" fill="none" stroke="#000" stroke-width="1.9" stroke-linejoin="miter" stroke-linecap="butt"/>
<circle cx="908.1" cy="591" r="2.9" fill="#000"/>
<path d="M897.50,604.10 L897.50,591.00 L924.40,591.00 L924.40,598.50" fill="none" stroke="#000" stroke-width="1.9" stroke-linejoin="miter" stroke-linecap="butt"/>
<path d="M892.3,604.1 L902.7,604.1 M892.3,609.5 L902.7,609.5" stroke="#000" stroke-width="3" stroke-linecap="round"/>
<path d="M897.50,609.50 L897.50,622.60" fill="none" stroke="#000" stroke-width="1.9" stroke-linejoin="miter" stroke-linecap="butt"/>
<path d="M924.40,598.50 L921.50,601.08 L927.30,603.67 L921.50,606.25 L927.30,608.83 L921.50,611.42 L924.40,614.00" fill="none" stroke="#000" stroke-width="1.9" stroke-linejoin="round" stroke-linecap="butt"/>
<path d="M924.40,614.00 L924.40,622.60" fill="none" stroke="#000" stroke-width="1.9" stroke-linejoin="miter" stroke-linecap="butt"/>
<path d="M919.70,622.60 L929.10,622.60" fill="none" stroke="#000" stroke-width="2" stroke-linejoin="miter" stroke-linecap="butt"/>
<path d="M921.40,625.90 L927.40,625.90" fill="none" stroke="#000" stroke-width="2" stroke-linejoin="miter" stroke-linecap="butt"/>
<path d="M922.90,629.00 L925.90,629.00" fill="none" stroke="#000" stroke-width="2" stroke-linejoin="miter" stroke-linecap="butt"/>
<text x="899.8000000000001" y="638.6" font-size="11.3" text-anchor="end" fill="#1c1c1c" stroke="#1c1c1c" stroke-width="0.25" >KNK1</text>
<path d="M1003.20,645.00 L1003.20,591.00" fill="none" stroke="#000" stroke-width="1.9" stroke-linejoin="miter" stroke-linecap="butt"/>
<circle cx="1003.2" cy="591" r="2.9" fill="#000"/>
<path d="M987.00,604.10 L987.00,591.00 L1019.50,591.00 L1019.50,598.50" fill="none" stroke="#000" stroke-width="1.9" stroke-linejoin="miter" stroke-linecap="butt"/>
<path d="M981.8,604.1 L992.2,604.1 M981.8,609.5 L992.2,609.5" stroke="#000" stroke-width="3" stroke-linecap="round"/>
<path d="M987.00,609.50 L987.00,622.60" fill="none" stroke="#000" stroke-width="1.9" stroke-linejoin="miter" stroke-linecap="butt"/>
<path d="M1019.50,598.50 L1016.60,601.08 L1022.40,603.67 L1016.60,606.25 L1022.40,608.83 L1016.60,611.42 L1019.50,614.00" fill="none" stroke="#000" stroke-width="1.9" stroke-linejoin="round" stroke-linecap="butt"/>
<path d="M1019.50,614.00 L1019.50,622.60" fill="none" stroke="#000" stroke-width="1.9" stroke-linejoin="miter" stroke-linecap="butt"/>
<path d="M1014.80,622.60 L1024.20,622.60" fill="none" stroke="#000" stroke-width="2" stroke-linejoin="miter" stroke-linecap="butt"/>
<path d="M1016.50,625.90 L1022.50,625.90" fill="none" stroke="#000" stroke-width="2" stroke-linejoin="miter" stroke-linecap="butt"/>
<path d="M1018.00,629.00 L1021.00,629.00" fill="none" stroke="#000" stroke-width="2" stroke-linejoin="miter" stroke-linecap="butt"/>
<text x="994.9000000000001" y="638.6" font-size="11.3" text-anchor="end" fill="#1c1c1c" stroke="#1c1c1c" stroke-width="0.25" >KNK2</text>
<text x="306" y="670.2" font-size="11.3" text-anchor="start" fill="#1c1c1c" stroke="#1c1c1c" stroke-width="0.25" >(SHIELDED)</text>
<circle cx="226.7" cy="479.5" r="8.4" fill="#fff" stroke="#000" stroke-width="3.1"/>
<text x="226.7" y="481.9" font-size="10.6" text-anchor="middle" fill="#1c1c1c" stroke="#1c1c1c" stroke-width="0.35">B</text>
<text x="214.2" y="482" font-size="11.3" text-anchor="end" fill="#1c1c1c" stroke="#1c1c1c" stroke-width="0.25" >40</text>
<circle cx="321.6" cy="479.5" r="8.4" fill="#fff" stroke="#000" stroke-width="3.1"/>
<text x="321.6" y="481.9" font-size="10.6" text-anchor="middle" fill="#1c1c1c" stroke="#1c1c1c" stroke-width="0.35">B</text>
<text x="309.1" y="482" font-size="11.3" text-anchor="end" fill="#1c1c1c" stroke="#1c1c1c" stroke-width="0.25" >38</text>
<circle cx="401.1" cy="479.5" r="8.4" fill="#fff" stroke="#000" stroke-width="3.1"/>
<text x="401.1" y="481.9" font-size="10.6" text-anchor="middle" fill="#1c1c1c" stroke="#1c1c1c" stroke-width="0.35">B</text>
<text x="388.6" y="482" font-size="11.3" text-anchor="end" fill="#1c1c1c" stroke="#1c1c1c" stroke-width="0.25" >45</text>
<circle cx="464" cy="479.5" r="8.4" fill="#fff" stroke="#000" stroke-width="3.1"/>
<text x="464" y="481.9" font-size="10.6" text-anchor="middle" fill="#1c1c1c" stroke="#1c1c1c" stroke-width="0.35">B</text>
<text x="451.5" y="482" font-size="11.3" text-anchor="end" fill="#1c1c1c" stroke="#1c1c1c" stroke-width="0.25" >66</text>
<circle cx="527.4" cy="479.5" r="8.4" fill="#fff" stroke="#000" stroke-width="3.1"/>
<text x="527.4" y="481.9" font-size="10.6" text-anchor="middle" fill="#1c1c1c" stroke="#1c1c1c" stroke-width="0.35">B</text>
<text x="514.9" y="482" font-size="11.3" text-anchor="end" fill="#1c1c1c" stroke="#1c1c1c" stroke-width="0.25" >28</text>
<circle cx="765.3" cy="479.5" r="8.4" fill="#fff" stroke="#000" stroke-width="3.1"/>
<text x="765.3" y="481.9" font-size="10.6" text-anchor="middle" fill="#1c1c1c" stroke="#1c1c1c" stroke-width="0.35">B</text>
<text x="752.8" y="482" font-size="11.3" text-anchor="end" fill="#1c1c1c" stroke="#1c1c1c" stroke-width="0.25" >62</text>
<circle cx="876.5" cy="479.5" r="8.4" fill="#fff" stroke="#000" stroke-width="3.1"/>
<text x="876.5" y="481.9" font-size="10.6" text-anchor="middle" fill="#1c1c1c" stroke="#1c1c1c" stroke-width="0.35">B</text>
<text x="864.0" y="482" font-size="11.3" text-anchor="end" fill="#1c1c1c" stroke="#1c1c1c" stroke-width="0.25" >46</text>
<path d="M163,662 L163,676" fill="none" stroke="#555" stroke-width="10" stroke-linecap="butt" stroke-linejoin="miter"/>
<path d="M163,662 L163,676" fill="none" stroke="#c0c0c0" stroke-width="5" stroke-linecap="butt" stroke-linejoin="miter"/>
<circle cx="163.1" cy="654.6" r="8.4" fill="#fff" stroke="#000" stroke-width="3.1"/>
<text x="163.1" y="657.2" font-size="10.6" text-anchor="middle" fill="#1c1c1c" stroke="#1c1c1c" stroke-width="0.35">B</text>
<text x="150.6" y="657" font-size="11.3" text-anchor="end" fill="#1c1c1c" stroke="#1c1c1c" stroke-width="0.25" >47</text>
<path d="M242,662 L242,676" fill="none" stroke="#555" stroke-width="10" stroke-linecap="butt" stroke-linejoin="miter"/>
<path d="M242,662 L242,676" fill="none" stroke="#aaa" stroke-width="1.5" stroke-linecap="butt" stroke-linejoin="miter"/>
<circle cx="242.4" cy="654.6" r="8.4" fill="#fff" stroke="#000" stroke-width="3.1"/>
<text x="242.4" y="657.2" font-size="10.6" text-anchor="middle" fill="#1c1c1c" stroke="#1c1c1c" stroke-width="0.35">B</text>
<text x="229.9" y="657" font-size="11.3" text-anchor="end" fill="#1c1c1c" stroke="#1c1c1c" stroke-width="0.25" >72</text>
<path d="M496,662 L496,676" fill="none" stroke="#000" stroke-width="10" stroke-linecap="butt" stroke-linejoin="miter"/>
<path d="M496,662 L496,676" fill="none" stroke="#c8c8c8" stroke-width="4.5" stroke-linecap="butt" stroke-linejoin="miter"/>
<circle cx="495.9" cy="654.6" r="8.4" fill="#fff" stroke="#000" stroke-width="3.1"/>
<text x="495.9" y="657.2" font-size="10.6" text-anchor="middle" fill="#1c1c1c" stroke="#1c1c1c" stroke-width="0.35">B</text>
<text x="483.4" y="657" font-size="11.3" text-anchor="end" fill="#1c1c1c" stroke="#1c1c1c" stroke-width="0.25" >71</text>
<path d="M591,662 L591,676" fill="none" stroke="#000" stroke-width="10" stroke-linecap="butt" stroke-linejoin="miter"/>
<path d="M591,662 L591,676" fill="none" stroke="#fff" stroke-width="8" stroke-linecap="butt" stroke-linejoin="miter"/>
<circle cx="590.9" cy="654.6" r="8.4" fill="#fff" stroke="#000" stroke-width="3.1"/>
<text x="590.9" y="657.2" font-size="10.6" text-anchor="middle" fill="#1c1c1c" stroke="#1c1c1c" stroke-width="0.35">B</text>
<text x="578.4" y="657" font-size="11.3" text-anchor="end" fill="#1c1c1c" stroke="#1c1c1c" stroke-width="0.25" >48</text>
<path d="M670,662 L670,676" fill="none" stroke="#5a5a5a" stroke-width="11" stroke-linecap="butt" stroke-linejoin="miter"/>
<path d="M670,662 L670,676" fill="none" stroke="#fff" stroke-width="8.4" stroke-linecap="butt" stroke-linejoin="miter"/>
<path d="M670,662 L670,676" fill="none" stroke="#cacaca" stroke-width="3.2" stroke-linecap="butt" stroke-linejoin="miter"/>
<circle cx="670.2" cy="654.6" r="8.4" fill="#fff" stroke="#000" stroke-width="3.1"/>
<text x="670.2" y="657.2" font-size="10.6" text-anchor="middle" fill="#1c1c1c" stroke="#1c1c1c" stroke-width="0.35">B</text>
<text x="657.7" y="657" font-size="11.3" text-anchor="end" fill="#1c1c1c" stroke="#1c1c1c" stroke-width="0.25" >73</text>
<path d="M750,662 L750,676" fill="none" stroke="#bdbdbd" stroke-width="10" stroke-linecap="butt" stroke-linejoin="miter"/>
<path d="M750,662 L750,676" fill="none" stroke="#f4f4f4" stroke-width="1.2" stroke-linecap="butt" stroke-linejoin="miter"/>
<circle cx="749.5" cy="654.6" r="8.4" fill="#fff" stroke="#000" stroke-width="3.1"/>
<text x="749.5" y="657.2" font-size="10.6" text-anchor="middle" fill="#1c1c1c" stroke="#1c1c1c" stroke-width="0.35">B</text>
<text x="737.0" y="657" font-size="11.3" text-anchor="end" fill="#1c1c1c" stroke="#1c1c1c" stroke-width="0.25" >60</text>
<path d="M829,662 L829,676" fill="none" stroke="#bbb" stroke-width="10" stroke-linecap="butt" stroke-linejoin="miter"/>
<path d="M829,662 L829,676" fill="none" stroke="#ddd" stroke-width="3" stroke-linecap="butt" stroke-linejoin="miter"/>
<circle cx="828.6" cy="654.6" r="8.4" fill="#fff" stroke="#000" stroke-width="3.1"/>
<text x="828.6" y="657.2" font-size="10.6" text-anchor="middle" fill="#1c1c1c" stroke="#1c1c1c" stroke-width="0.35">B</text>
<text x="816.1" y="657" font-size="11.3" text-anchor="end" fill="#1c1c1c" stroke="#1c1c1c" stroke-width="0.25" >39</text>
<path d="M908,662 L908,676" fill="none" stroke="#000" stroke-width="10" stroke-linecap="butt" stroke-linejoin="miter"/>
<path d="M908,662 L908,676" fill="none" stroke="#fff" stroke-width="8" stroke-linecap="butt" stroke-linejoin="miter"/>
<circle cx="908.1" cy="654.6" r="8.4" fill="#fff" stroke="#000" stroke-width="3.1"/>
<text x="908.1" y="657.2" font-size="10.6" text-anchor="middle" fill="#1c1c1c" stroke="#1c1c1c" stroke-width="0.35">B</text>
<text x="895.6" y="657" font-size="11.3" text-anchor="end" fill="#1c1c1c" stroke="#1c1c1c" stroke-width="0.25" >50</text>
<path d="M1003,662 L1003,676" fill="none" stroke="#555" stroke-width="10" stroke-linecap="butt" stroke-linejoin="miter"/>
<path d="M1003,662 L1003,676" fill="none" stroke="#fff" stroke-width="8" stroke-linecap="butt" stroke-linejoin="miter"/>
<circle cx="1003.2" cy="654.6" r="8.4" fill="#fff" stroke="#000" stroke-width="3.1"/>
<text x="1003.2" y="657.2" font-size="10.6" text-anchor="middle" fill="#1c1c1c" stroke="#1c1c1c" stroke-width="0.35">B</text>
<text x="990.7" y="657" font-size="11.3" text-anchor="end" fill="#1c1c1c" stroke="#1c1c1c" stroke-width="0.25" >49</text>
</svg></body></html>
